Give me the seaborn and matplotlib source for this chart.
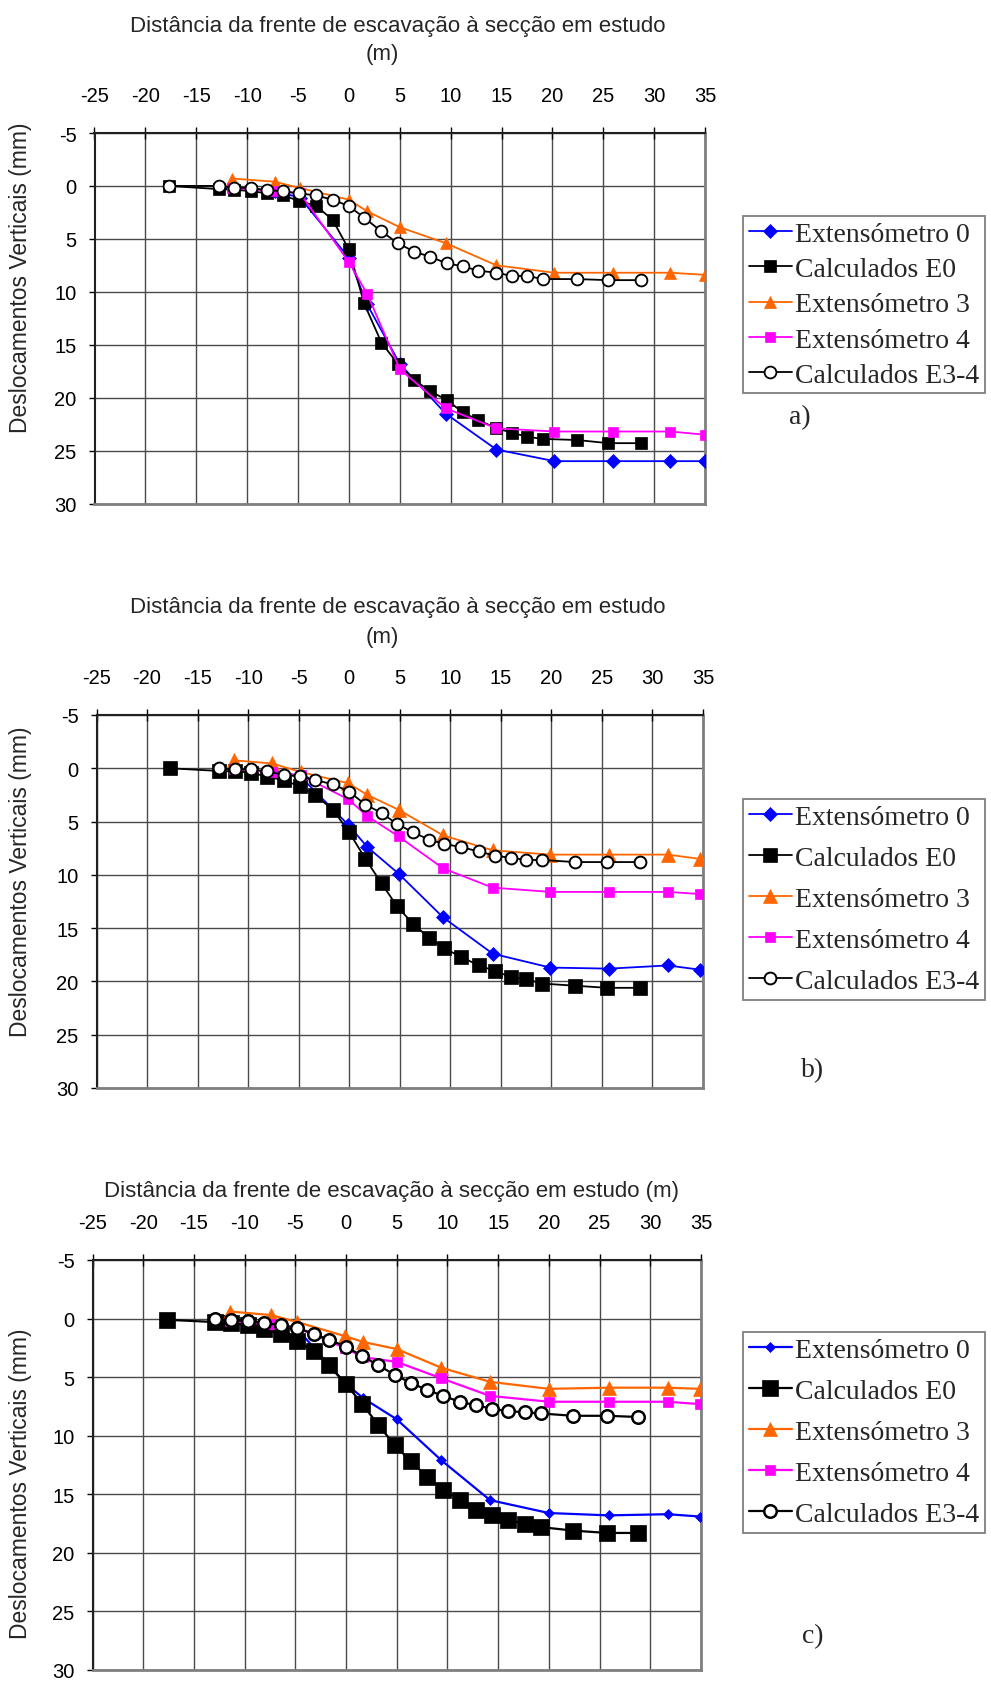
import numpy as np
import pandas as pd
import matplotlib
matplotlib.use("Agg")
import matplotlib.pyplot as plt
from matplotlib.font_manager import FontProperties
import seaborn as sns

sns.set_theme(style="white")
plt.rcParams["font.family"] = ["Liberation Sans", "DejaVu Sans"]

# ---------------- data ----------------
labels = ["Extensómetro 0", "Calculados E0", "Extensómetro 3",
          "Extensómetro 4", "Calculados E3-4"]
x_ticks = [-25, -20, -15, -10, -5, 0, 5, 10, 15, 20, 25, 30, 35]
y_ticks = [-5, 0, 5, 10, 15, 20, 25, 30]

# panel a
a_x_ext = [-11.5, -7.3, -4.8, 0.0, 1.8, 5.0, 9.5, 14.5, 20.2, 26.0, 31.6, 35.0]
a_ext0 = [0.2, 0.5, 1.1, 6.8, 11.2, 16.8, 21.5, 24.9, 26.0, 26.0, 26.0, 26.0]
a_ext3 = [-0.7, -0.4, 0.2, 1.3, 2.4, 3.9, 5.4, 7.5, 8.2, 8.2, 8.2, 8.4]
a_ext4 = [0.2, 0.5, 0.7, 7.2, 10.2, 17.3, 21.0, 22.9, 23.2, 23.2, 23.2, 23.5]
a_x_calc = [-17.7, -12.8, -11.3, -9.6, -8.0, -6.5, -4.9, -3.2, -1.6, 0.0, 1.5, 3.2,
            4.8, 6.4, 8.0, 9.6, 11.2, 12.7, 14.5, 16.0, 17.5, 19.1, 22.4, 25.5, 28.7]
a_calc0 = [0.0, 0.3, 0.35, 0.5, 0.7, 0.9, 1.4, 1.9, 3.2, 6.0, 11.1, 14.8, 16.8,
           18.3, 19.4, 20.2, 21.4, 22.1, 22.9, 23.3, 23.7, 23.9, 24.0, 24.3, 24.3]
a_x_calc34 = a_x_calc
a_calc34 = [0.0, 0.0, 0.15, 0.2, 0.4, 0.5, 0.7, 0.9, 1.3, 1.9, 3.0, 4.3, 5.4,
            6.2, 6.7, 7.3, 7.6, 8.0, 8.2, 8.5, 8.5, 8.8, 8.8, 8.9, 8.9]

# panel b
b_x_ext = [-11.4, -7.6, -4.8, -0.1, 1.8, 4.9, 9.3, 14.2, 19.9, 25.7, 31.5, 34.7]
b_ext0 = [0.1, 0.35, 0.8, 5.3, 7.4, 9.9, 14.0, 17.4, 18.7, 18.8, 18.5, 18.9]
b_ext3 = [-0.75, -0.45, 0.35, 1.4, 2.5, 3.9, 6.3, 7.7, 8.1, 8.1, 8.1, 8.5]
b_ext4 = [0.1, 0.35, 0.65, 2.9, 4.5, 6.4, 9.4, 11.2, 11.6, 11.6, 11.6, 11.8]
b_x_calc = [-17.7, -12.9, -11.3, -9.7, -8.1, -6.5, -4.9, -3.4, -1.6, 0.0, 1.6, 3.2,
            4.7, 6.3, 7.9, 9.4, 11.1, 12.8, 14.4, 16.0, 17.5, 19.1, 22.3, 25.5, 28.8]
b_calc0 = [0.0, 0.25, 0.3, 0.4, 0.8, 1.1, 1.7, 2.5, 3.9, 6.0, 8.5, 10.8, 12.9,
           14.6, 15.9, 16.9, 17.7, 18.5, 19.0, 19.6, 19.8, 20.2, 20.4, 20.6, 20.6]
b_x_calc34 = [-12.9, -11.3, -9.7, -8.1, -6.5, -4.9, -3.4, -1.6, 0.0, 1.6, 3.2,
              4.7, 6.3, 7.9, 9.4, 11.1, 12.8, 14.4, 16.0, 17.5, 19.1, 22.3, 25.5, 28.8]
b_calc34 = [0.0, 0.1, 0.1, 0.3, 0.6, 0.75, 1.1, 1.5, 2.2, 3.4, 4.2, 5.2, 6.0,
            6.7, 7.1, 7.4, 7.8, 8.2, 8.4, 8.6, 8.6, 8.8, 8.8, 8.8]

# panel c
c_x_ext = [-11.4, -7.4, -4.8, -0.1, 1.7, 5.0, 9.4, 14.2, 20.0, 25.9, 31.7, 34.9]
c_ext0 = [0.2, 0.5, 0.9, 5.5, 6.8, 8.6, 12.1, 15.5, 16.6, 16.8, 16.7, 16.9]
c_ext3 = [-0.6, -0.3, 0.3, 1.5, 2.0, 2.6, 4.2, 5.4, 6.0, 5.9, 5.9, 6.0]
c_ext4 = [0.2, 0.5, 0.8, 2.5, 3.3, 3.7, 5.1, 6.6, 7.1, 7.1, 7.1, 7.3]
c_x_calc = [-17.7, -12.9, -11.3, -9.7, -8.1, -6.4, -4.8, -3.2, -1.7, 0.0, 1.6, 3.2,
            4.8, 6.4, 8.0, 9.6, 11.2, 12.8, 14.4, 16.0, 17.6, 19.2, 22.4, 25.7, 28.8]
c_calc0 = [0.1, 0.3, 0.4, 0.55, 0.9, 1.3, 1.9, 2.8, 4.0, 5.6, 7.3, 9.1, 10.8,
           12.2, 13.5, 14.6, 15.5, 16.3, 16.8, 17.2, 17.5, 17.8, 18.1, 18.3, 18.3]
c_x_calc34 = [-12.9, -11.3, -9.7, -8.1, -6.4, -4.8, -3.2, -1.7, 0.0, 1.6, 3.2,
              4.8, 6.4, 8.0, 9.6, 11.2, 12.8, 14.4, 16.0, 17.6, 19.2, 22.4, 25.7, 28.8]
c_calc34 = [0.05, 0.15, 0.2, 0.4, 0.55, 0.8, 1.3, 1.8, 2.4, 3.2, 4.0, 4.8, 5.5,
            6.1, 6.6, 7.1, 7.4, 7.7, 7.9, 8.0, 8.1, 8.3, 8.3, 8.4]

# ---------------- figure ----------------
W, H = 991, 1683
fig = plt.figure(figsize=(W / 100, H / 100), dpi=100)
fig.patch.set_facecolor("white")

BLUE, ORANGE, MAGENTA, BLACK = "#0000FF", "#FF6600", "#FF00FF", "#000000"


def make_axes(l, r, t, b):
    return fig.add_axes([l / W, 1 - b / H, (r - l) / W, (b - t) / H])


panels = [
    dict(box=(94.5, 705, 134, 504.5),
         data=(a_x_ext, a_ext0, a_x_calc, a_calc0, a_ext3, a_ext4, a_x_calc34, a_calc34),
         ms=dict(d=7, sq=8.5, tri=9, sq4=7.5, circ=8.5, cew=1.3), lw=1.3,
         title=[("Distância da frente de escavação à secção em estudo", 398, 26.5),
                ("(m)", 382, 54.5)],
         ylab_y=278,
         leg=(743, 217, 0.35), lab=("a)", 800, 418)),
    dict(box=(96.5, 703, 716, 1089),
         data=(b_x_ext, b_ext0, b_x_calc, b_calc0, b_ext3, b_ext4, b_x_calc34, b_calc34),
         ms=dict(d=7.5, sq=10, tri=9.5, sq4=6.5, circ=8.5, cew=1.4), lw=1.3,
         title=[("Distância da frente de escavação à secção em estudo", 398, 608),
                ("(m)", 382, 637)],
         ylab_y=882,
         leg=(743, 800, 0.56), lab=("b)", 813, 1071)),
    dict(box=(92.5, 701, 1261, 1671),
         data=(c_x_ext, c_ext0, c_x_calc, c_calc0, c_ext3, c_ext4, c_x_calc34, c_calc34),
         ms=dict(d=5, sq=11, tri=10, sq4=6.5, circ=9, cew=1.8), lw=1.6,
         title=[("Distância da frente de escavação à secção em estudo (m)", 392, 1192)],
         ylab_y=1484,
         leg=(743, 1333, 0.56), lab=("c)", 813, 1637)),
]

leg_font = FontProperties(family="Liberation Serif", size=20)

for p in panels:
    l, r, t, b = p["box"]
    ax = make_axes(l, r, t, b)
    xe, e0, xc, c0, e3, e4, xc34, c34 = p["data"]
    ms = p["ms"]
    lw = p["lw"]
    series = [
        (pd.DataFrame({"x": xe, "y": e0}), BLUE, "D", ms["d"], BLUE, BLUE, 0.5),
        (pd.DataFrame({"x": xc, "y": c0}), BLACK, "s", ms["sq"], BLACK, BLACK, 0.5),
        (pd.DataFrame({"x": xe, "y": e3}), ORANGE, "^", ms["tri"], ORANGE, ORANGE, 0.5),
        (pd.DataFrame({"x": xe, "y": e4}), MAGENTA, "s", ms["sq4"], MAGENTA, MAGENTA, 0.5),
        (pd.DataFrame({"x": xc34, "y": c34}), BLACK, "o", ms["circ"], BLACK, "white", ms["cew"]),
    ]
    for (df, col, mk, size, mec, mfc, mew), lab in zip(series, labels):
        sns.lineplot(data=df, x="x", y="y", ax=ax, color=col, marker=mk,
                     markersize=size, markeredgecolor=mec, markerfacecolor=mfc,
                     markeredgewidth=mew, linewidth=lw, estimator=None,
                     sort=False, label=lab, legend=False, zorder=3)

    ax.set_xlim(-25, 35)
    ax.set_ylim(30, -5)
    ax.set_xticks(x_ticks)
    ax.set_yticks(y_ticks)
    ax.set_xticklabels([str(v) for v in x_ticks])
    ax.set_yticklabels([str(v) for v in y_ticks])
    ax.xaxis.tick_top()
    ax.set_xlabel("")
    ax.set_ylabel("")
    ax.grid(True, color="#4a4a4a", linewidth=1.0)
    ax.set_axisbelow(True)
    ax.tick_params(axis="x", direction="inout", length=9, width=1.0, pad=16,
                   labelsize=14.5, colors="black", top=True, bottom=False)
    ax.tick_params(axis="y", direction="out", length=4, width=1.0, pad=9,
                   labelsize=14.5, colors="black", left=True)
    ax.set_facecolor("white")
    for side in ["left", "top"]:
        ax.spines[side].set_color("#202020")
        ax.spines[side].set_linewidth(1.5)
    for side in ["right", "bottom"]:
        ax.spines[side].set_color("#808080")
        ax.spines[side].set_linewidth(2.0)

    for txt, xx, yy in p["title"]:
        fig.text(xx / W, 1 - yy / H, txt, ha="center", va="center", fontsize=16)
    fig.text(21 / W, 1 - p["ylab_y"] / H, "Deslocamentos Verticais (mm)",
             rotation=90, ha="center", va="center", fontsize=16.5)

    lx, ly, lsp = p["leg"]
    handles = ax.get_lines()[:5]
    leg = fig.legend(handles, labels, loc="upper left",
                     bbox_to_anchor=(lx / W, 1 - ly / H),
                     bbox_transform=fig.transFigure, prop=leg_font,
                     frameon=True, fancybox=False, edgecolor="#606060",
                     borderaxespad=0, borderpad=0.2, handlelength=1.55,
                     handletextpad=0.12, labelspacing=lsp, numpoints=1)
    leg.get_frame().set_linewidth(1.3)

    ltxt, lxx, lyy = p["lab"]
    fig.text(lxx / W, 1 - lyy / H, ltxt, ha="center", va="center",
             fontsize=20, family="Liberation Serif")

fig.savefig("out.png", dpi=100, facecolor="white")
